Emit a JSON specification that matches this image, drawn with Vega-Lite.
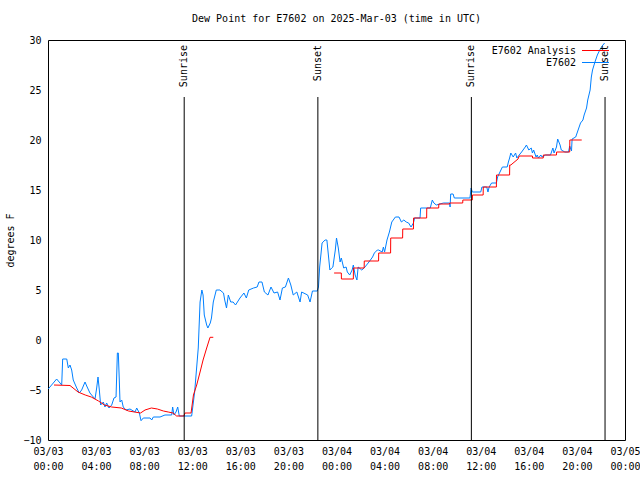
{
  "$schema": "https://vega.github.io/schema/vega-lite/v6.json",
  "width": 577,
  "height": 400,
  "autosize": {"type": "none"},
  "padding": {"left": 48, "top": 40, "right": 15, "bottom": 40},
  "background": "white",
  "title": {"text": "Dew Point for E7602 on 2025-Mar-03 (time in UTC)", "font": "DejaVu Sans Mono", "fontSize": 10, "fontWeight": "normal", "color": "black", "offset": 11, "anchor": "middle"},
  "config": {
    "view": {"stroke": "black", "strokeWidth": 1},
    "axis": {"domain": false, "grid": false, "labelFont": "DejaVu Sans Mono", "labelFontSize": 10, "labelColor": "black", "titleFont": "DejaVu Sans Mono", "titleFontSize": 10, "titleFontWeight": "normal", "titleColor": "black", "tickColor": "black", "tickWidth": 1, "tickSize": 0, "labelOverlap": false, "labelFlush": false},
    "legend": {"labelFont": "DejaVu Sans Mono", "labelFontSize": 10, "labelColor": "black"}
  },
  "datasets": {
    "sun": [
      {"h": 11.33, "label": "Sunrise"},
      {"h": 22.45, "label": "Sunset"},
      {"h": 35.22, "label": "Sunrise"},
      {"h": 46.34, "label": "Sunset"}
    ],
    "obs": [
      {"h": 0.02, "v": -4.9, "s": "E7602", "g": "b"},
      {"h": 0.44, "v": -4.3, "s": "E7602", "g": "b"},
      {"h": 0.72, "v": -3.9, "s": "E7602", "g": "b"},
      {"h": 1.0, "v": -4.3, "s": "E7602", "g": "b"},
      {"h": 1.14, "v": -4.5, "s": "E7602", "g": "b"},
      {"h": 1.22, "v": -1.9, "s": "E7602", "g": "b"},
      {"h": 1.56, "v": -1.9, "s": "E7602", "g": "b"},
      {"h": 1.69, "v": -2.8, "s": "E7602", "g": "b"},
      {"h": 1.83, "v": -2.5, "s": "E7602", "g": "b"},
      {"h": 1.97, "v": -3.0, "s": "E7602", "g": "b"},
      {"h": 2.1, "v": -4.0, "s": "E7602", "g": "b"},
      {"h": 2.39, "v": -4.8, "s": "E7602", "g": "b"},
      {"h": 2.6, "v": -5.3, "s": "E7602", "g": "b"},
      {"h": 2.8, "v": -5.0, "s": "E7602", "g": "b"},
      {"h": 3.08, "v": -4.2, "s": "E7602", "g": "b"},
      {"h": 3.22, "v": -4.6, "s": "E7602", "g": "b"},
      {"h": 3.49, "v": -5.3, "s": "E7602", "g": "b"},
      {"h": 3.77, "v": -5.7, "s": "E7602", "g": "b"},
      {"h": 3.91, "v": -5.9, "s": "E7602", "g": "b"},
      {"h": 4.05, "v": -4.8, "s": "E7602", "g": "b"},
      {"h": 4.16, "v": -3.7, "s": "E7602", "g": "b"},
      {"h": 4.27, "v": -5.0, "s": "E7602", "g": "b"},
      {"h": 4.38, "v": -6.5, "s": "E7602", "g": "b"},
      {"h": 4.6, "v": -6.2, "s": "E7602", "g": "b"},
      {"h": 4.74, "v": -6.7, "s": "E7602", "g": "b"},
      {"h": 4.88, "v": -6.3, "s": "E7602", "g": "b"},
      {"h": 5.07, "v": -6.8, "s": "E7602", "g": "b"},
      {"h": 5.3, "v": -6.5, "s": "E7602", "g": "b"},
      {"h": 5.49, "v": -5.8, "s": "E7602", "g": "b"},
      {"h": 5.66, "v": -5.7, "s": "E7602", "g": "b"},
      {"h": 5.77, "v": -1.3, "s": "E7602", "g": "b"},
      {"h": 5.85, "v": -1.3, "s": "E7602", "g": "b"},
      {"h": 5.93, "v": -4.0, "s": "E7602", "g": "b"},
      {"h": 5.99, "v": -6.2, "s": "E7602", "g": "b"},
      {"h": 6.13, "v": -6.0, "s": "E7602", "g": "b"},
      {"h": 6.26, "v": -6.7, "s": "E7602", "g": "b"},
      {"h": 6.49, "v": -7.0, "s": "E7602", "g": "b"},
      {"h": 6.82, "v": -6.9, "s": "E7602", "g": "b"},
      {"h": 7.24, "v": -7.2, "s": "E7602", "g": "b"},
      {"h": 7.38, "v": -6.8, "s": "E7602", "g": "b"},
      {"h": 7.6, "v": -7.3, "s": "E7602", "g": "b"},
      {"h": 7.74, "v": -8.07, "s": "E7602", "g": "b"},
      {"h": 7.93, "v": -7.8, "s": "E7602", "g": "b"},
      {"h": 8.49, "v": -7.8, "s": "E7602", "g": "b"},
      {"h": 8.63, "v": -8.0, "s": "E7602", "g": "b"},
      {"h": 8.76, "v": -7.7, "s": "E7602", "g": "b"},
      {"h": 9.32, "v": -7.7, "s": "E7602", "g": "b"},
      {"h": 9.73, "v": -7.5, "s": "E7602", "g": "b"},
      {"h": 10.29, "v": -7.5, "s": "E7602", "g": "b"},
      {"h": 10.37, "v": -6.7, "s": "E7602", "g": "b"},
      {"h": 10.48, "v": -7.5, "s": "E7602", "g": "b"},
      {"h": 10.65, "v": -7.2, "s": "E7602", "g": "b"},
      {"h": 10.79, "v": -6.7, "s": "E7602", "g": "b"},
      {"h": 10.92, "v": -7.6, "s": "E7602", "g": "b"},
      {"h": 11.95, "v": -7.6, "s": "E7602", "g": "b"},
      {"h": 12.2, "v": -5.2, "s": "E7602", "g": "b"},
      {"h": 12.5, "v": -0.8, "s": "E7602", "g": "b"},
      {"h": 12.65, "v": 3.8, "s": "E7602", "g": "b"},
      {"h": 12.8, "v": 5.0, "s": "E7602", "g": "b"},
      {"h": 12.9, "v": 4.5, "s": "E7602", "g": "b"},
      {"h": 13.0, "v": 2.5, "s": "E7602", "g": "b"},
      {"h": 13.2, "v": 1.5, "s": "E7602", "g": "b"},
      {"h": 13.3, "v": 1.2, "s": "E7602", "g": "b"},
      {"h": 13.5, "v": 1.7, "s": "E7602", "g": "b"},
      {"h": 13.6, "v": 2.2, "s": "E7602", "g": "b"},
      {"h": 13.75, "v": 3.8, "s": "E7602", "g": "b"},
      {"h": 14.0, "v": 5.0, "s": "E7602", "g": "b"},
      {"h": 14.3, "v": 5.0, "s": "E7602", "g": "b"},
      {"h": 14.6, "v": 4.7, "s": "E7602", "g": "b"},
      {"h": 14.7, "v": 4.0, "s": "E7602", "g": "b"},
      {"h": 14.85, "v": 3.2, "s": "E7602", "g": "b"},
      {"h": 15.0, "v": 4.5, "s": "E7602", "g": "b"},
      {"h": 15.2, "v": 3.8, "s": "E7602", "g": "b"},
      {"h": 15.4, "v": 3.8, "s": "E7602", "g": "b"},
      {"h": 15.6, "v": 3.5, "s": "E7602", "g": "b"},
      {"h": 15.97, "v": 4.2, "s": "E7602", "g": "b"},
      {"h": 16.3, "v": 4.7, "s": "E7602", "g": "b"},
      {"h": 16.5, "v": 4.2, "s": "E7602", "g": "b"},
      {"h": 16.7, "v": 5.0, "s": "E7602", "g": "b"},
      {"h": 17.1, "v": 5.2, "s": "E7602", "g": "b"},
      {"h": 17.4, "v": 5.3, "s": "E7602", "g": "b"},
      {"h": 17.55, "v": 5.8, "s": "E7602", "g": "b"},
      {"h": 17.8, "v": 5.8, "s": "E7602", "g": "b"},
      {"h": 18.0, "v": 4.8, "s": "E7602", "g": "b"},
      {"h": 18.3, "v": 4.5, "s": "E7602", "g": "b"},
      {"h": 18.55, "v": 5.3, "s": "E7602", "g": "b"},
      {"h": 18.8, "v": 4.7, "s": "E7602", "g": "b"},
      {"h": 19.1, "v": 4.8, "s": "E7602", "g": "b"},
      {"h": 19.3, "v": 4.0, "s": "E7602", "g": "b"},
      {"h": 19.5, "v": 5.2, "s": "E7602", "g": "b"},
      {"h": 19.75, "v": 5.3, "s": "E7602", "g": "b"},
      {"h": 20.0, "v": 6.2, "s": "E7602", "g": "b"},
      {"h": 20.2, "v": 5.5, "s": "E7602", "g": "b"},
      {"h": 20.4, "v": 4.5, "s": "E7602", "g": "b"},
      {"h": 20.7, "v": 4.8, "s": "E7602", "g": "b"},
      {"h": 20.97, "v": 3.8, "s": "E7602", "g": "b"},
      {"h": 21.1, "v": 4.8, "s": "E7602", "g": "b"},
      {"h": 21.6, "v": 4.5, "s": "E7602", "g": "b"},
      {"h": 21.8, "v": 3.8, "s": "E7602", "g": "b"},
      {"h": 22.0, "v": 4.9, "s": "E7602", "g": "b"},
      {"h": 22.4, "v": 4.9, "s": "E7602", "g": "b"},
      {"h": 22.5, "v": 5.3, "s": "E7602", "g": "b"},
      {"h": 22.6, "v": 7.3, "s": "E7602", "g": "b"},
      {"h": 22.8, "v": 9.7, "s": "E7602", "g": "b"},
      {"h": 23.05, "v": 10.0, "s": "E7602", "g": "b"},
      {"h": 23.2, "v": 10.0, "s": "E7602", "g": "b"},
      {"h": 23.3, "v": 8.8, "s": "E7602", "g": "b"},
      {"h": 23.45, "v": 7.0, "s": "E7602", "g": "b"},
      {"h": 23.6, "v": 7.2, "s": "E7602", "g": "b"},
      {"h": 23.7, "v": 7.3, "s": "E7602", "g": "b"},
      {"h": 23.9, "v": 9.0, "s": "E7602", "g": "b"},
      {"h": 24.0, "v": 10.2, "s": "E7602", "g": "b"},
      {"h": 24.15, "v": 9.2, "s": "E7602", "g": "b"},
      {"h": 24.3, "v": 7.8, "s": "E7602", "g": "b"},
      {"h": 24.4, "v": 8.2, "s": "E7602", "g": "b"},
      {"h": 24.6, "v": 7.2, "s": "E7602", "g": "b"},
      {"h": 24.8, "v": 7.3, "s": "E7602", "g": "b"},
      {"h": 24.9, "v": 6.8, "s": "E7602", "g": "b"},
      {"h": 25.1, "v": 6.5, "s": "E7602", "g": "b"},
      {"h": 25.3, "v": 7.0, "s": "E7602", "g": "b"},
      {"h": 25.4, "v": 7.5, "s": "E7602", "g": "b"},
      {"h": 25.55, "v": 6.5, "s": "E7602", "g": "b"},
      {"h": 25.7, "v": 6.0, "s": "E7602", "g": "b"},
      {"h": 25.8, "v": 7.3, "s": "E7602", "g": "b"},
      {"h": 26.1, "v": 7.0, "s": "E7602", "g": "b"},
      {"h": 26.3, "v": 7.2, "s": "E7602", "g": "b"},
      {"h": 26.5, "v": 7.5, "s": "E7602", "g": "b"},
      {"h": 26.7, "v": 7.8, "s": "E7602", "g": "b"},
      {"h": 27.0, "v": 8.3, "s": "E7602", "g": "b"},
      {"h": 27.15, "v": 8.7, "s": "E7602", "g": "b"},
      {"h": 27.4, "v": 9.0, "s": "E7602", "g": "b"},
      {"h": 27.5, "v": 9.0, "s": "E7602", "g": "b"},
      {"h": 27.8, "v": 8.8, "s": "E7602", "g": "b"},
      {"h": 27.9, "v": 9.3, "s": "E7602", "g": "b"},
      {"h": 28.0, "v": 8.8, "s": "E7602", "g": "b"},
      {"h": 28.2, "v": 10.0, "s": "E7602", "g": "b"},
      {"h": 28.4, "v": 10.8, "s": "E7602", "g": "b"},
      {"h": 28.6, "v": 11.8, "s": "E7602", "g": "b"},
      {"h": 28.9, "v": 12.3, "s": "E7602", "g": "b"},
      {"h": 29.2, "v": 12.3, "s": "E7602", "g": "b"},
      {"h": 29.4, "v": 11.8, "s": "E7602", "g": "b"},
      {"h": 29.6, "v": 12.0, "s": "E7602", "g": "b"},
      {"h": 29.8, "v": 11.8, "s": "E7602", "g": "b"},
      {"h": 30.0, "v": 11.7, "s": "E7602", "g": "b"},
      {"h": 30.2, "v": 11.3, "s": "E7602", "g": "b"},
      {"h": 30.4, "v": 11.7, "s": "E7602", "g": "b"},
      {"h": 30.5, "v": 12.2, "s": "E7602", "g": "b"},
      {"h": 30.95, "v": 12.2, "s": "E7602", "g": "b"},
      {"h": 31.0, "v": 13.2, "s": "E7602", "g": "b"},
      {"h": 31.8, "v": 13.2, "s": "E7602", "g": "b"},
      {"h": 31.97, "v": 14.0, "s": "E7602", "g": "b"},
      {"h": 32.1, "v": 13.7, "s": "E7602", "g": "b"},
      {"h": 32.3, "v": 13.5, "s": "E7602", "g": "b"},
      {"h": 32.9, "v": 13.7, "s": "E7602", "g": "b"},
      {"h": 33.4, "v": 13.7, "s": "E7602", "g": "b"},
      {"h": 33.45, "v": 13.3, "s": "E7602", "g": "b"},
      {"h": 33.5, "v": 14.6, "s": "E7602", "g": "b"},
      {"h": 33.7, "v": 14.6, "s": "E7602", "g": "b"},
      {"h": 33.8, "v": 14.2, "s": "E7602", "g": "b"},
      {"h": 35.1, "v": 14.2, "s": "E7602", "g": "b"},
      {"h": 35.2, "v": 15.2, "s": "E7602", "g": "b"},
      {"h": 35.3, "v": 14.8, "s": "E7602", "g": "b"},
      {"h": 36.0, "v": 14.8, "s": "E7602", "g": "b"},
      {"h": 36.1, "v": 15.3, "s": "E7602", "g": "b"},
      {"h": 36.5, "v": 15.3, "s": "E7602", "g": "b"},
      {"h": 36.6, "v": 14.8, "s": "E7602", "g": "b"},
      {"h": 36.7, "v": 15.3, "s": "E7602", "g": "b"},
      {"h": 36.9, "v": 15.7, "s": "E7602", "g": "b"},
      {"h": 37.3, "v": 15.7, "s": "E7602", "g": "b"},
      {"h": 37.4, "v": 16.3, "s": "E7602", "g": "b"},
      {"h": 37.6, "v": 16.8, "s": "E7602", "g": "b"},
      {"h": 37.8, "v": 17.3, "s": "E7602", "g": "b"},
      {"h": 38.2, "v": 17.3, "s": "E7602", "g": "b"},
      {"h": 38.3, "v": 17.8, "s": "E7602", "g": "b"},
      {"h": 38.4, "v": 18.2, "s": "E7602", "g": "b"},
      {"h": 38.5, "v": 18.7, "s": "E7602", "g": "b"},
      {"h": 38.7, "v": 18.3, "s": "E7602", "g": "b"},
      {"h": 38.9, "v": 18.7, "s": "E7602", "g": "b"},
      {"h": 39.0, "v": 18.2, "s": "E7602", "g": "b"},
      {"h": 39.2, "v": 18.5, "s": "E7602", "g": "b"},
      {"h": 39.4, "v": 18.8, "s": "E7602", "g": "b"},
      {"h": 39.7, "v": 19.3, "s": "E7602", "g": "b"},
      {"h": 39.8, "v": 19.5, "s": "E7602", "g": "b"},
      {"h": 40.0, "v": 19.0, "s": "E7602", "g": "b"},
      {"h": 40.2, "v": 19.2, "s": "E7602", "g": "b"},
      {"h": 40.3, "v": 18.7, "s": "E7602", "g": "b"},
      {"h": 40.4, "v": 19.0, "s": "E7602", "g": "b"},
      {"h": 40.6, "v": 18.3, "s": "E7602", "g": "b"},
      {"h": 40.7, "v": 18.5, "s": "E7602", "g": "b"},
      {"h": 40.8, "v": 18.2, "s": "E7602", "g": "b"},
      {"h": 41.0, "v": 18.5, "s": "E7602", "g": "b"},
      {"h": 41.1, "v": 18.3, "s": "E7602", "g": "b"},
      {"h": 41.4, "v": 18.5, "s": "E7602", "g": "b"},
      {"h": 41.8, "v": 18.5, "s": "E7602", "g": "b"},
      {"h": 42.0, "v": 19.2, "s": "E7602", "g": "b"},
      {"h": 42.1, "v": 18.7, "s": "E7602", "g": "b"},
      {"h": 42.3, "v": 19.3, "s": "E7602", "g": "b"},
      {"h": 42.4, "v": 20.1, "s": "E7602", "g": "b"},
      {"h": 42.6, "v": 19.5, "s": "E7602", "g": "b"},
      {"h": 42.7, "v": 19.0, "s": "E7602", "g": "b"},
      {"h": 43.0, "v": 18.8, "s": "E7602", "g": "b"},
      {"h": 43.3, "v": 18.8, "s": "E7602", "g": "b"},
      {"h": 43.4, "v": 19.4, "s": "E7602", "g": "b"},
      {"h": 43.55, "v": 18.9, "s": "E7602", "g": "b"},
      {"h": 43.6, "v": 20.1, "s": "E7602", "g": "b"},
      {"h": 43.9, "v": 20.3, "s": "E7602", "g": "b"},
      {"h": 44.1, "v": 21.0, "s": "E7602", "g": "b"},
      {"h": 44.3, "v": 21.7, "s": "E7602", "g": "b"},
      {"h": 44.5, "v": 22.0, "s": "E7602", "g": "b"},
      {"h": 44.6, "v": 22.5, "s": "E7602", "g": "b"},
      {"h": 44.8, "v": 23.2, "s": "E7602", "g": "b"},
      {"h": 44.9, "v": 24.0, "s": "E7602", "g": "b"},
      {"h": 45.1, "v": 25.0, "s": "E7602", "g": "b"},
      {"h": 45.2, "v": 26.3, "s": "E7602", "g": "b"},
      {"h": 45.3, "v": 27.0, "s": "E7602", "g": "b"},
      {"h": 45.5, "v": 27.8, "s": "E7602", "g": "b"},
      {"h": 45.7, "v": 28.5, "s": "E7602", "g": "b"},
      {"h": 45.9, "v": 29.0, "s": "E7602", "g": "b"},
      {"h": 46.1, "v": 29.4, "s": "E7602", "g": "b"},
      {"h": 46.3, "v": 29.7, "s": "E7602", "g": "b"},
      {"h": 0.5, "v": -4.5, "s": "E7602 Analysis", "g": "r1"},
      {"h": 1.83, "v": -4.55, "s": "E7602 Analysis", "g": "r1"},
      {"h": 2.5, "v": -5.2, "s": "E7602 Analysis", "g": "r1"},
      {"h": 3.1, "v": -5.5, "s": "E7602 Analysis", "g": "r1"},
      {"h": 3.6, "v": -5.7, "s": "E7602 Analysis", "g": "r1"},
      {"h": 4.2, "v": -6.1, "s": "E7602 Analysis", "g": "r1"},
      {"h": 4.7, "v": -6.5, "s": "E7602 Analysis", "g": "r1"},
      {"h": 5.3, "v": -6.7, "s": "E7602 Analysis", "g": "r1"},
      {"h": 6.1, "v": -6.8, "s": "E7602 Analysis", "g": "r1"},
      {"h": 6.7, "v": -7.1, "s": "E7602 Analysis", "g": "r1"},
      {"h": 7.2, "v": -7.2, "s": "E7602 Analysis", "g": "r1"},
      {"h": 7.7, "v": -7.3, "s": "E7602 Analysis", "g": "r1"},
      {"h": 8.07, "v": -7.0, "s": "E7602 Analysis", "g": "r1"},
      {"h": 8.6, "v": -6.8, "s": "E7602 Analysis", "g": "r1"},
      {"h": 9.1, "v": -6.9, "s": "E7602 Analysis", "g": "r1"},
      {"h": 9.6, "v": -7.1, "s": "E7602 Analysis", "g": "r1"},
      {"h": 10.0, "v": -7.2, "s": "E7602 Analysis", "g": "r1"},
      {"h": 10.4, "v": -7.3, "s": "E7602 Analysis", "g": "r1"},
      {"h": 10.7, "v": -7.6, "s": "E7602 Analysis", "g": "r1"},
      {"h": 11.3, "v": -7.6, "s": "E7602 Analysis", "g": "r1"},
      {"h": 11.4, "v": -7.3, "s": "E7602 Analysis", "g": "r1"},
      {"h": 11.9, "v": -7.3, "s": "E7602 Analysis", "g": "r1"},
      {"h": 12.1, "v": -5.5, "s": "E7602 Analysis", "g": "r1"},
      {"h": 12.37, "v": -4.5, "s": "E7602 Analysis", "g": "r1"},
      {"h": 12.65, "v": -3.2, "s": "E7602 Analysis", "g": "r1"},
      {"h": 12.9, "v": -2.0, "s": "E7602 Analysis", "g": "r1"},
      {"h": 13.2, "v": -0.8, "s": "E7602 Analysis", "g": "r1"},
      {"h": 13.48, "v": 0.27, "s": "E7602 Analysis", "g": "r1"},
      {"h": 13.75, "v": 0.27, "s": "E7602 Analysis", "g": "r1"},
      {"h": 23.8, "v": 6.7, "s": "E7602 Analysis", "g": "r2"},
      {"h": 24.4, "v": 6.7, "s": "E7602 Analysis", "g": "r2"},
      {"h": 24.41, "v": 6.1, "s": "E7602 Analysis", "g": "r2"},
      {"h": 25.4, "v": 6.1, "s": "E7602 Analysis", "g": "r2"},
      {"h": 25.41, "v": 7.2, "s": "E7602 Analysis", "g": "r2"},
      {"h": 26.3, "v": 7.2, "s": "E7602 Analysis", "g": "r2"},
      {"h": 26.31, "v": 7.9, "s": "E7602 Analysis", "g": "r2"},
      {"h": 27.5, "v": 7.9, "s": "E7602 Analysis", "g": "r2"},
      {"h": 27.51, "v": 8.7, "s": "E7602 Analysis", "g": "r2"},
      {"h": 28.5, "v": 8.7, "s": "E7602 Analysis", "g": "r2"},
      {"h": 28.51, "v": 10.2, "s": "E7602 Analysis", "g": "r2"},
      {"h": 29.5, "v": 10.2, "s": "E7602 Analysis", "g": "r2"},
      {"h": 29.51, "v": 11.1, "s": "E7602 Analysis", "g": "r2"},
      {"h": 30.4, "v": 11.1, "s": "E7602 Analysis", "g": "r2"},
      {"h": 30.41, "v": 12.2, "s": "E7602 Analysis", "g": "r2"},
      {"h": 31.5, "v": 12.2, "s": "E7602 Analysis", "g": "r2"},
      {"h": 31.51, "v": 13.2, "s": "E7602 Analysis", "g": "r2"},
      {"h": 32.5, "v": 13.2, "s": "E7602 Analysis", "g": "r2"},
      {"h": 32.51, "v": 13.6, "s": "E7602 Analysis", "g": "r2"},
      {"h": 33.4, "v": 13.6, "s": "E7602 Analysis", "g": "r2"},
      {"h": 33.41, "v": 13.7, "s": "E7602 Analysis", "g": "r2"},
      {"h": 34.5, "v": 13.7, "s": "E7602 Analysis", "g": "r2"},
      {"h": 34.51, "v": 14.0, "s": "E7602 Analysis", "g": "r2"},
      {"h": 35.3, "v": 14.0, "s": "E7602 Analysis", "g": "r2"},
      {"h": 35.31, "v": 14.5, "s": "E7602 Analysis", "g": "r2"},
      {"h": 36.2, "v": 14.5, "s": "E7602 Analysis", "g": "r2"},
      {"h": 36.21, "v": 15.3, "s": "E7602 Analysis", "g": "r2"},
      {"h": 37.3, "v": 15.3, "s": "E7602 Analysis", "g": "r2"},
      {"h": 37.31, "v": 16.5, "s": "E7602 Analysis", "g": "r2"},
      {"h": 38.4, "v": 16.5, "s": "E7602 Analysis", "g": "r2"},
      {"h": 38.41, "v": 17.5, "s": "E7602 Analysis", "g": "r2"},
      {"h": 38.5, "v": 17.5, "s": "E7602 Analysis", "g": "r2"},
      {"h": 39.1, "v": 18.1, "s": "E7602 Analysis", "g": "r2"},
      {"h": 39.2, "v": 18.4, "s": "E7602 Analysis", "g": "r2"},
      {"h": 40.3, "v": 18.4, "s": "E7602 Analysis", "g": "r2"},
      {"h": 40.31, "v": 18.2, "s": "E7602 Analysis", "g": "r2"},
      {"h": 41.2, "v": 18.2, "s": "E7602 Analysis", "g": "r2"},
      {"h": 41.21, "v": 18.5, "s": "E7602 Analysis", "g": "r2"},
      {"h": 42.3, "v": 18.5, "s": "E7602 Analysis", "g": "r2"},
      {"h": 42.31, "v": 18.8, "s": "E7602 Analysis", "g": "r2"},
      {"h": 43.4, "v": 18.8, "s": "E7602 Analysis", "g": "r2"},
      {"h": 43.41, "v": 20.0, "s": "E7602 Analysis", "g": "r2"},
      {"h": 44.4, "v": 20.0, "s": "E7602 Analysis", "g": "r2"}
    ]
  },
  "layer": [
    {
      "data": {"name": "obs"},
      "mark": {"type": "line", "strokeWidth": 1, "interpolate": "linear"},
      "encoding": {
        "x": {"field": "h", "type": "quantitative", "scale": {"domain": [0, 48], "nice": false, "zero": false},
          "axis": {"orient": "bottom", "title": null, "values": [0,1,2,3,4,5,6,7,8,9,10,11,12,13,14,15,16,17,18,19,20,21,22,23,24,25,26,27,28,29,30,31,32,33,34,35,36,37,38,39,40,41,42,43,44,45,46,47,48],
            "labelExpr": "datum.value % 4 == 0 ? [datum.value < 24 ? '03/03' : (datum.value < 48 ? '03/04' : '03/05'), ((datum.value % 24) < 10 ? '0' : '') + (datum.value % 24) + ':00'] : ''",
            "labelBaseline": "top", "labelPadding": 6, "labelLineHeight": 15,
            "encode": {"ticks": {"update": {"y2": {"signal": "datum.value % 4 == 0 ? -6 : -3"}}}}}},
        "y": {"field": "v", "type": "quantitative", "scale": {"domain": [-10, 30], "nice": false, "zero": false},
          "axis": {"orient": "left", "title": "degrees F", "values": [-10,-5,0,5,10,15,20,25,30], "labelPadding": 7,
            "titleX": -38, "titleY": 200, "titleAngle": 270, "titleAlign": "center", "titleBaseline": "middle",
            "encode": {"ticks": {"update": {"x2": {"value": 6}}}}}},
        "color": {"field": "s", "type": "nominal",
          "scale": {"domain": ["E7602 Analysis", "E7602"], "range": ["#ff0000", "#0080ff"]},
          "legend": {"title": null, "orient": "none", "legendX": 541, "legendY": 4, "symbolType": "M-2.25,0H2.25", "symbolSize": 144, "symbolStrokeWidth": 1, "labelAlign": "right", "labelOffset": -26, "rowPadding": 0, "labelLimit": 0, "padding": 0}},
        "detail": {"field": "g", "type": "nominal"}
      }
    },
    {
      "data": {"name": "sun"},
      "mark": {"type": "rule", "color": "black", "strokeWidth": 1},
      "encoding": {
        "x": {"field": "h", "type": "quantitative", "axis": {"orient": "top", "title": null, "labels": false, "values": [0,1,2,3,4,5,6,7,8,9,10,11,12,13,14,15,16,17,18,19,20,21,22,23,24,25,26,27,28,29,30,31,32,33,34,35,36,37,38,39,40,41,42,43,44,45,46,47,48],
          "encode": {"ticks": {"update": {"y2": {"signal": "datum.value % 4 == 0 ? 6 : 3"}}}}}},
        "y": {"datum": 24.3, "type": "quantitative", "axis": {"orient": "right", "title": null, "labels": false, "values": [-10,-5,0,5,10,15,20,25,30],
          "encode": {"ticks": {"update": {"x2": {"value": -6}}}}}},
        "y2": {"datum": -10}
      }
    },
    {
      "data": {"name": "sun"},
      "mark": {"type": "text", "angle": 270, "align": "right", "baseline": "middle", "dx": -5, "font": "DejaVu Sans Mono", "fontSize": 10, "color": "black"},
      "encoding": {
        "x": {"field": "h", "type": "quantitative", "axis": null},
        "y": {"datum": 30, "type": "quantitative", "axis": null},
        "text": {"field": "label"}
      }
    }
  ]
}
